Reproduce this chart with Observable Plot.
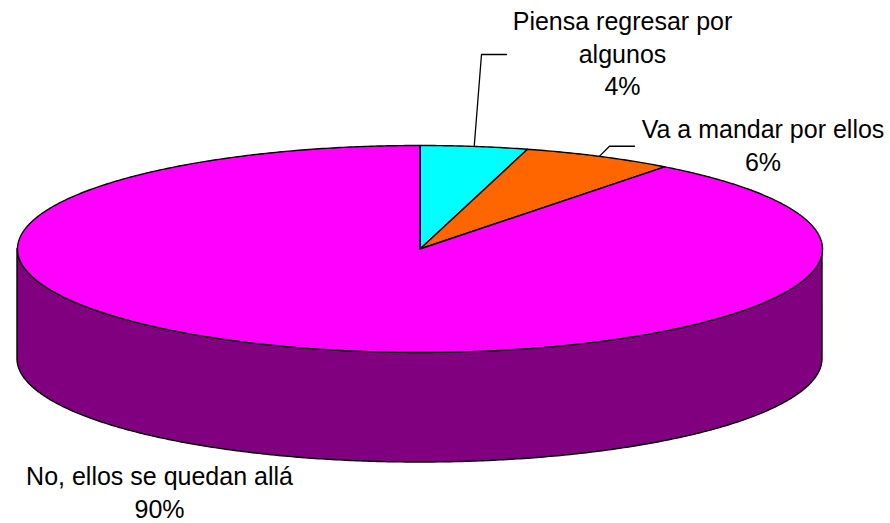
<!DOCTYPE html>
<html><head><meta charset="utf-8">
<script src="https://cdn.jsdelivr.net/npm/d3@7"></script>
<script src="https://cdn.jsdelivr.net/npm/@observablehq/plot@0.6"></script>
<style>html,body{margin:0;padding:0;background:#fff}svg{display:block}</style>
</head><body><div id="chart"></div>
<script>
// ---- data ----
const categories = ["Piensa regresar por algunos", "Va a mandar por ellos", "No, ellos se quedan allá"];
const labelLines = [["Piensa regresar por", "algunos"], ["Va a mandar por ellos"], ["No, ellos se quedan allá"]];
const values = [4.3, 6.1, 89.6];
const topColors = ["#00FFFF", "#FF6600", "#FF00FF"];
const sideColors = ["#008080", "#993300", "#800080"];

// ---- layout ----
const W = 890, H = 523;
const cx = 419.5, cy = 248.5, rx = 402.5, ry = 103.5, depth = 110;
const fontSize = 25, lineH = 32.5, capH = 17;
const lineHeight = lineH / fontSize;
const fontFamily = "'Liberation Sans', Arial, Helvetica, sans-serif";
// x: label centre, base: first-line baseline, left: left edge of widest line
const labelPos = [
  {x: 622, base: 30, left: 512, leader: true},
  {x: 762.5, base: 138, left: 640, leader: true},
  {x: 159, base: 485, left: 30, leader: false}
];

const total = d3.sum(values);
let acc = 0;
const slices = values.map((v, i) => {
  const a0 = acc / total * 2 * Math.PI; acc += v;
  const a1 = acc / total * 2 * Math.PI;
  return {i, a0, a1, mid: (a0 + a1) / 2};
});
const pt = (a, dz = 0) => ({x: cx + rx * Math.sin(a), y: cy - ry * Math.cos(a) + dz});
const arc = (a0, a1) => {
  const n = Math.max(2, Math.ceil((a1 - a0) / (Math.PI / 360)));
  return d3.range(n + 1).map(k => a0 + (a1 - a0) * k / n);
};

const marks = [];
// sides (visible front half: angles PI/2 .. 3PI/2)
slices.forEach(s => {
  const lo = Math.max(s.a0, Math.PI / 2), hi = Math.min(s.a1, 3 * Math.PI / 2);
  if (hi > lo) {
    const pts = arc(lo, hi).map(a => { const p = pt(a); return {x: p.x, y1: p.y, y2: p.y + depth}; });
    marks.push(Plot.areaY(pts, {x: "x", y1: "y1", y2: "y2", fill: sideColors[s.i], stroke: "black", strokeWidth: 1.4, strokeLinejoin: "round"}));
  }
});
// tops
slices.forEach(s => {
  const poly = [{x: cx, y: cy}, ...arc(s.a0, s.a1).map(a => pt(a)), {x: cx, y: cy}];
  marks.push(Plot.line(poly, {x: "x", y: "y", fill: topColors[s.i], stroke: "black", strokeWidth: 1.4, strokeLinejoin: "round"}));
});
// leader lines
const leaders = [];
slices.forEach(s => {
  const L = labelPos[s.i];
  if (!L.leader) return;
  const nLines = labelLines[s.i].length + 1;
  const midY = L.base - capH + ((nLines - 1) * lineH + capH) / 2;
  const p = pt(s.mid);
  leaders.push({i: s.i, x: p.x, y: p.y}, {i: s.i, x: L.left - 31, y: midY}, {i: s.i, x: L.left - 6, y: midY});
});
marks.push(Plot.line(leaders, {x: "x", y: "y", z: "i", stroke: "black", strokeWidth: 1.3}));
// labels (Plot's lineAnchor "top" puts the first baseline 0.71·lineHeight em below y)
const labels = slices.map(s => ({
  x: labelPos[s.i].x, y: labelPos[s.i].base - 0.71 * lineHeight * fontSize,
  text: labelLines[s.i].join("\n") + "\n" + Math.round(values[s.i] / total * 100) + "%"
}));
marks.push(Plot.text(labels, {x: "x", y: "y", text: "text", lineAnchor: "top", lineHeight,
  fontSize, fontFamily, fill: "black", textAnchor: "middle"}));

const chart = Plot.plot({
  width: W, height: H, margin: 0,
  x: {domain: [0, W], range: [0, W], axis: null},
  y: {domain: [0, H], range: [0, H], axis: null},
  style: {fontFamily, background: "#fff"},
  marks
});
document.getElementById("chart").append(chart);
</script>
</body></html>
